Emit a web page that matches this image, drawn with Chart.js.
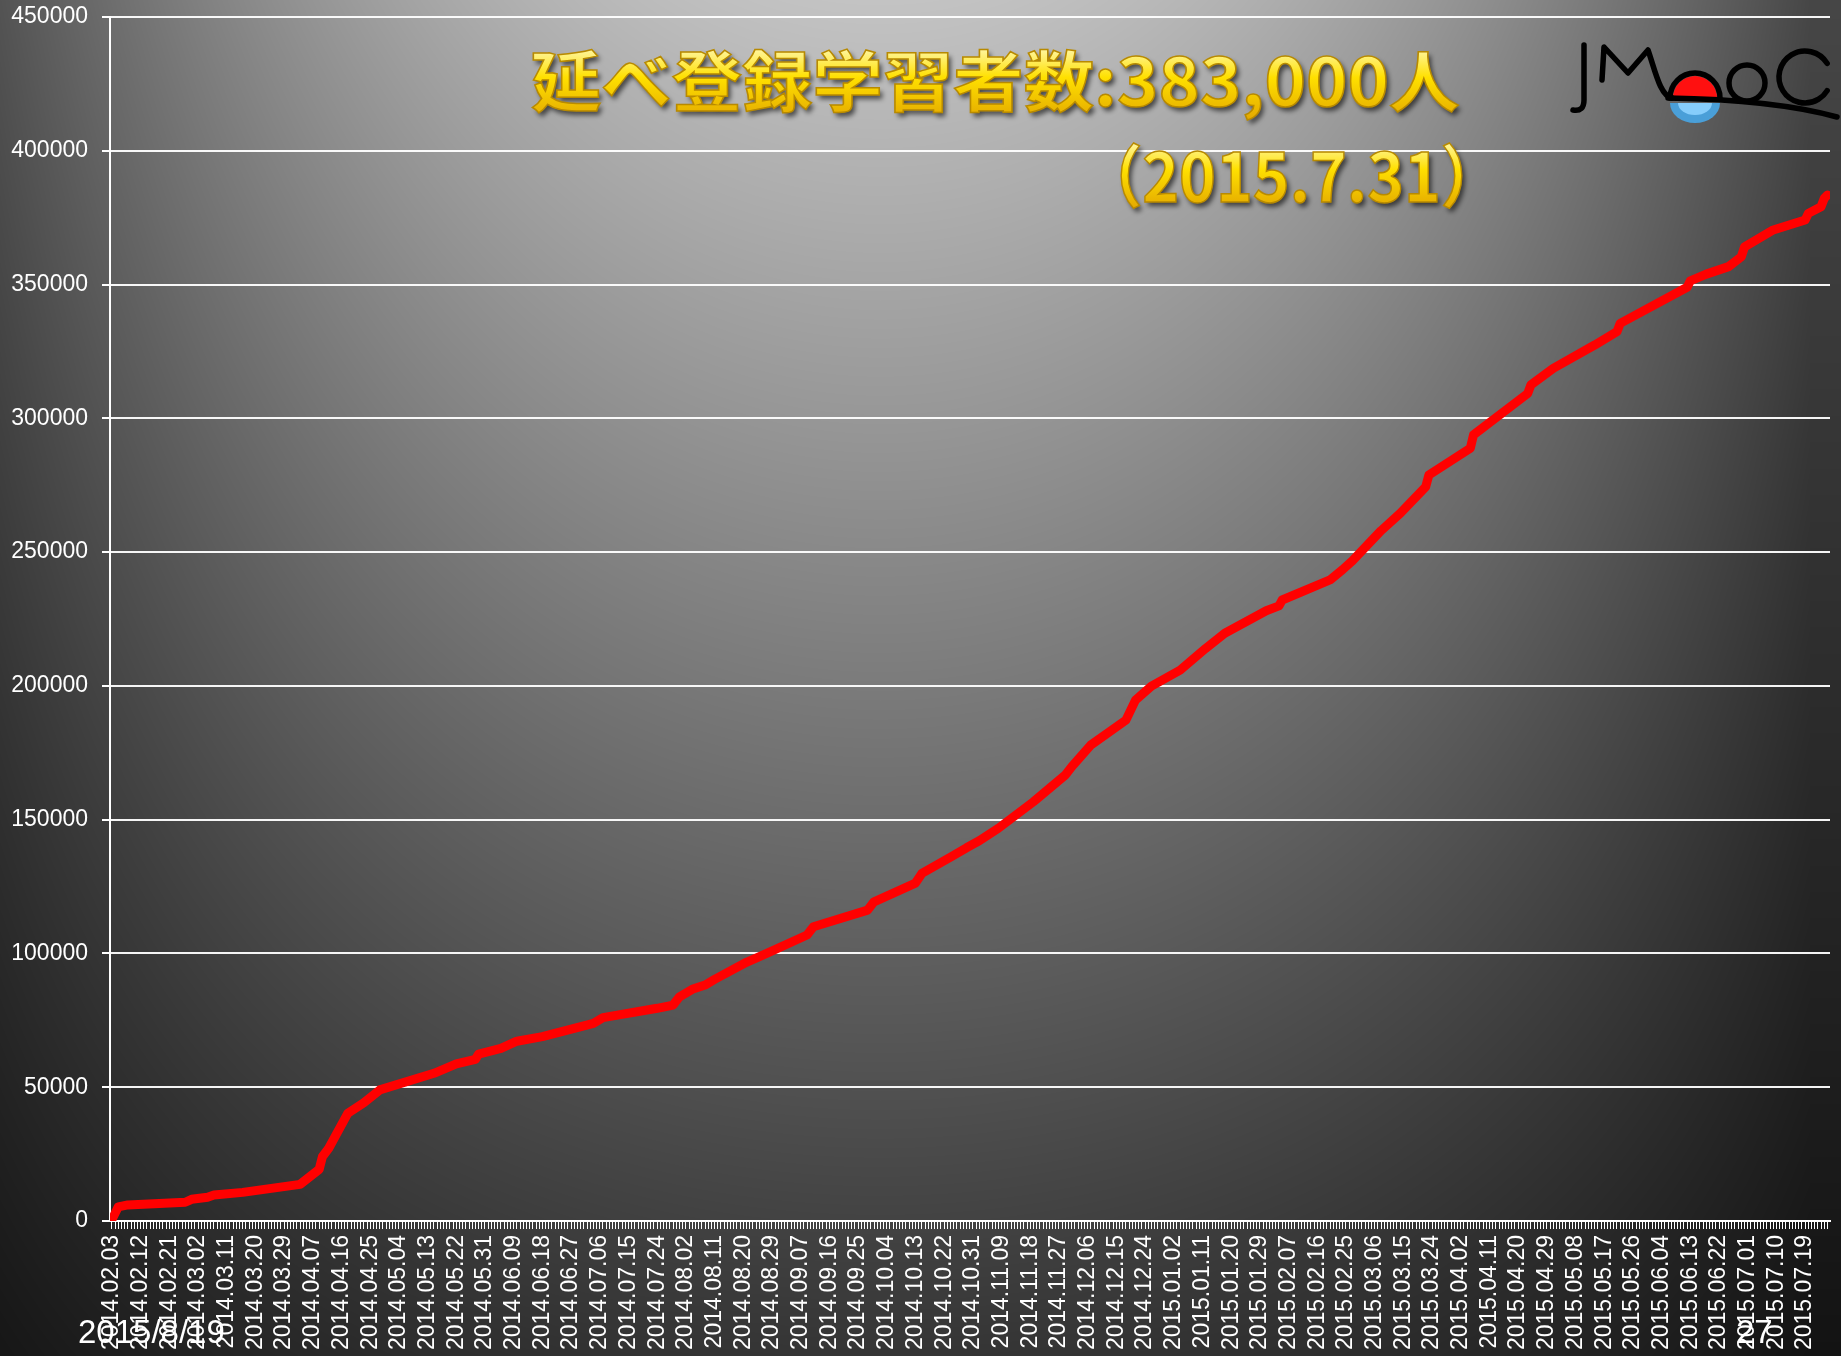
<!DOCTYPE html>
<html lang="ja">
<head>
    <meta charset="UTF-8">
    <title>延べ登録学習者数</title>
    <style>
        html, body { margin: 0; padding: 0; background: #222; overflow: hidden; }
    </style>
</head>
<body>
    <canvas id="myChart" width="1841" height="1356"></canvas>

    <script src="https://cdn.jsdelivr.net/npm/chart.js"></script>

    <script>
        // 2014.02.03 からの日数と延べ登録者数
        let days = [
            0, 2, 5, 23, 25, 30, 32, 41, 59, 65,
            66, 68, 74, 79, 84, 101, 108, 114, 115, 122,
            127, 135, 151, 154, 171, 176, 178, 182, 186, 189,
            199, 205, 218, 220, 237, 239, 252, 254, 263, 268,
            272, 278, 289, 299, 301, 307, 318, 321, 326, 335,
            343, 349, 362, 366, 367, 382, 386, 389, 398, 404,
            412, 413, 426, 427, 444, 445, 452, 465, 472, 473,
            494, 495, 500, 507, 511, 512, 521, 531, 532, 536,
            537, 538
        ];
        let learners = [
            500, 5300, 6000, 7000, 8100, 8900, 9700, 10700, 13700, 19300,
            24000, 27200, 40300, 44200, 49000, 55200, 58700, 60400, 62400, 64500,
            67200, 68900, 73900, 76000, 79500, 80700, 83800, 86600, 88200, 90300,
            96700, 99800, 106900, 110000, 116200, 119300, 126300, 129900, 136000, 139500,
            142100, 146800, 156700, 166700, 169800, 177900, 187200, 194700, 199900, 205900,
            214000, 219700, 228100, 229900, 232100, 239600, 243500, 246700, 258000, 264500,
            274400, 278800, 288800, 293800, 309300, 312500, 318700, 327400, 332400, 335500,
            349000, 351400, 353900, 356700, 360400, 364100, 370400, 374100, 376600, 379100,
            382200, 383500
        ];
        // 9日おきの目盛りラベル
        let tickLabels = [
            '2014.02.03', '2014.02.12', '2014.02.21', '2014.03.02', '2014.03.11', '2014.03.20',
            '2014.03.29', '2014.04.07', '2014.04.16', '2014.04.25', '2014.05.04', '2014.05.13',
            '2014.05.22', '2014.05.31', '2014.06.09', '2014.06.18', '2014.06.27', '2014.07.06',
            '2014.07.15', '2014.07.24', '2014.08.02', '2014.08.11', '2014.08.20', '2014.08.29',
            '2014.09.07', '2014.09.16', '2014.09.25', '2014.10.04', '2014.10.13', '2014.10.22',
            '2014.10.31', '2014.11.09', '2014.11.18', '2014.11.27', '2014.12.06', '2014.12.15',
            '2014.12.24', '2015.01.02', '2015.01.11', '2015.01.20', '2015.01.29', '2015.02.07',
            '2015.02.16', '2015.02.25', '2015.03.06', '2015.03.15', '2015.03.24', '2015.04.02',
            '2015.04.11', '2015.04.20', '2015.04.29', '2015.05.08', '2015.05.17', '2015.05.26',
            '2015.06.04', '2015.06.13', '2015.06.22', '2015.07.01', '2015.07.10', '2015.07.19'
        ];
        let yMax = 450000;
        let yStep = 50000;

        let titleText = '延べ登録学習者数:383,000人';
        let dateText = '（2015.7.31）';

        const W = 1841, H = 1356;

        // 背景グラデーション
        const bg = document.createElement('canvas');
        bg.width = W; bg.height = H;
        (function () {
            const bctx = bg.getContext('2d');
            const img = bctx.createImageData(W, H);
            const d = img.data;
            for (let y = 0; y < H; y++) {
                const v = 195 - 0.105 * y;
                for (let x = 0; x < W; x++) {
                    let u = Math.min(1, Math.abs(x - 880) / 930);
                    let g = v * (1 - 0.64 * u * u);
                    if (g < 8) g = 8;
                    const i = (y * W + x) * 4;
                    d[i] = d[i + 1] = d[i + 2] = g;
                    d[i + 3] = 255;
                }
            }
            bctx.putImageData(img, 0, 0);
        })();

        function goldText(ctx, text, left, right, top, bottom) {
            ctx.save();
            ctx.font = 'bold 100px "Noto Sans CJK JP"';
            let m = ctx.measureText(text);
            const size = 100 * (bottom - top) / (m.actualBoundingBoxAscent + m.actualBoundingBoxDescent);
            ctx.font = 'bold ' + size + 'px "Noto Sans CJK JP"';
            m = ctx.measureText(text);
            const inkW = m.actualBoundingBoxLeft + m.actualBoundingBoxRight;
            const sx = (right - left) / inkW;
            const base = top + m.actualBoundingBoxAscent;
            ctx.translate(left + m.actualBoundingBoxLeft * sx, base);
            ctx.scale(sx, 1);
            const g = ctx.createLinearGradient(0, -m.actualBoundingBoxAscent, 0, m.actualBoundingBoxDescent);
            g.addColorStop(0, '#fff6a0');
            g.addColorStop(0.4, '#ffe000');
            g.addColorStop(1, '#e3a800');
            ctx.shadowColor = 'rgba(0,0,0,0.6)';
            ctx.shadowOffsetX = 3;
            ctx.shadowOffsetY = 4;
            ctx.shadowBlur = 5;
            ctx.fillStyle = g;
            ctx.fillText(text, 0, 0);
            ctx.shadowColor = 'transparent';
            ctx.lineWidth = 1.5;
            ctx.strokeStyle = '#b88a00';
            ctx.strokeText(text, 0, 0);
            ctx.restore();
        }

        function drawLogo(ctx) {
            ctx.save();
            ctx.lineCap = 'round';
            ctx.lineJoin = 'round';
            // 水色の反射
            ctx.fillStyle = '#4a9fd8';
            ctx.beginPath();
            ctx.ellipse(1695, 103, 25, 20, 0, 0, Math.PI);
            ctx.fill();
            ctx.fillStyle = '#86cdfb';
            ctx.beginPath();
            ctx.ellipse(1695, 103, 17, 12, 0, 0, Math.PI);
            ctx.fill();
            // 赤い太陽
            ctx.fillStyle = '#ff1010';
            ctx.beginPath();
            ctx.arc(1695, 98, 22, Math.PI, 0);
            ctx.closePath();
            ctx.fill();

            ctx.strokeStyle = '#000';
            ctx.lineWidth = 5.5;
            // J
            ctx.beginPath();
            ctx.moveTo(1584, 45);
            ctx.lineTo(1584, 100);
            ctx.quadraticCurveTo(1584, 112, 1573, 110);
            ctx.stroke();
            // M と波
            ctx.beginPath();
            ctx.moveTo(1602, 80);
            ctx.lineTo(1604, 47);
            ctx.lineTo(1628, 73);
            ctx.lineTo(1648, 50);
            ctx.bezierCurveTo(1655, 70, 1660, 96, 1672, 98);
            ctx.stroke();
            // 太陽の輪郭
            ctx.beginPath();
            ctx.arc(1695, 98, 25, Math.PI, 0);
            ctx.stroke();
            // 地平線
            ctx.beginPath();
            ctx.moveTo(1668, 98);
            ctx.bezierCurveTo(1730, 99, 1790, 104, 1837, 117);
            ctx.stroke();
            // O
            ctx.beginPath();
            ctx.arc(1747, 83, 18, 0, Math.PI * 2);
            ctx.stroke();
            // C
            ctx.beginPath();
            ctx.arc(1805, 77, 26, -0.55, 0.55, true);
            ctx.stroke();
            ctx.restore();
        }

        const decoPlugin = {
            id: 'deco',
            beforeDraw(chart) {
                chart.ctx.drawImage(bg, 0, 0);
            },
            afterDraw(chart) {
                const ctx = chart.ctx;
                goldText(ctx, titleText, 532, 1459, 49, 120);
                goldText(ctx, dateText, 1121, 1462, 143, 209);
                drawLogo(ctx);

                ctx.save();
                ctx.fillStyle = '#ffffff';
                ctx.font = '33px "Liberation Sans"';
                ctx.textBaseline = 'alphabetic';
                ctx.fillText('2015/8/19', 78, 1343);
                ctx.fillText('27', 1736, 1343);
                ctx.restore();
            }
        };

        const points = [];
        for (let i = 0; i < days.length; i++) {
            points.push({ x: days[i], y: learners[i] });
        }

        const ctx = document.getElementById('myChart');

        new Chart(ctx, {
            type: 'line',
            data: {
                datasets: [{
                    label: '延べ登録学習者数',
                    data: points,
                    borderColor: '#ff0000',
                    borderWidth: 9,
                    borderJoinStyle: 'round',
                    borderCapStyle: 'round',
                    pointRadius: 0,
                    tension: 0,
                    fill: false
                }]
            },
            options: {
                responsive: false,
                animation: false,
                layout: { padding: { top: 17, right: 11, left: 0, bottom: 0 } },
                plugins: {
                    legend: { display: false },
                    tooltip: { enabled: false }
                },
                scales: {
                    x: {
                        type: 'linear',
                        min: -0.6,
                        max: 538.8,
                        afterFit: s => {
                            s.height = 135;
                            s.paddingLeft = 0;
                            s.paddingRight = 0;
                        },
                        grid: {
                            drawOnChartArea: false,
                            color: '#ffffff',
                            tickColor: '#ffffff',
                            tickLength: 8,
                            lineWidth: 1
                        },
                        border: { color: '#ffffff', width: 2 },
                        ticks: {
                            stepSize: 1,
                            autoSkip: false,
                            includeBounds: false,
                            minRotation: 90,
                            maxRotation: 90,
                            padding: 6,
                            color: '#ffffff',
                            font: { family: '"Liberation Sans"', size: 23 },
                            callback: v => (v % 9 === 0 && tickLabels[v / 9]) ? tickLabels[v / 9] : ''
                        }
                    },
                    y: {
                        min: 0,
                        max: yMax,
                        afterFit: s => {
                            s.width = 110;
                            s.paddingTop = 0;
                            s.paddingBottom = 0;
                        },
                        grid: {
                            color: 'rgba(255,255,255,0.95)',
                            tickColor: '#ffffff',
                            lineWidth: 2,
                            tickLength: 8
                        },
                        border: { color: '#ffffff', width: 2 },
                        ticks: {
                            stepSize: yStep,
                            padding: 14,
                            color: '#ffffff',
                            font: { family: '"Liberation Sans"', size: 23 },
                            callback: v => String(v)
                        }
                    }
                }
            },
            plugins: [decoPlugin]
        });
    </script>
</body>
</html>
